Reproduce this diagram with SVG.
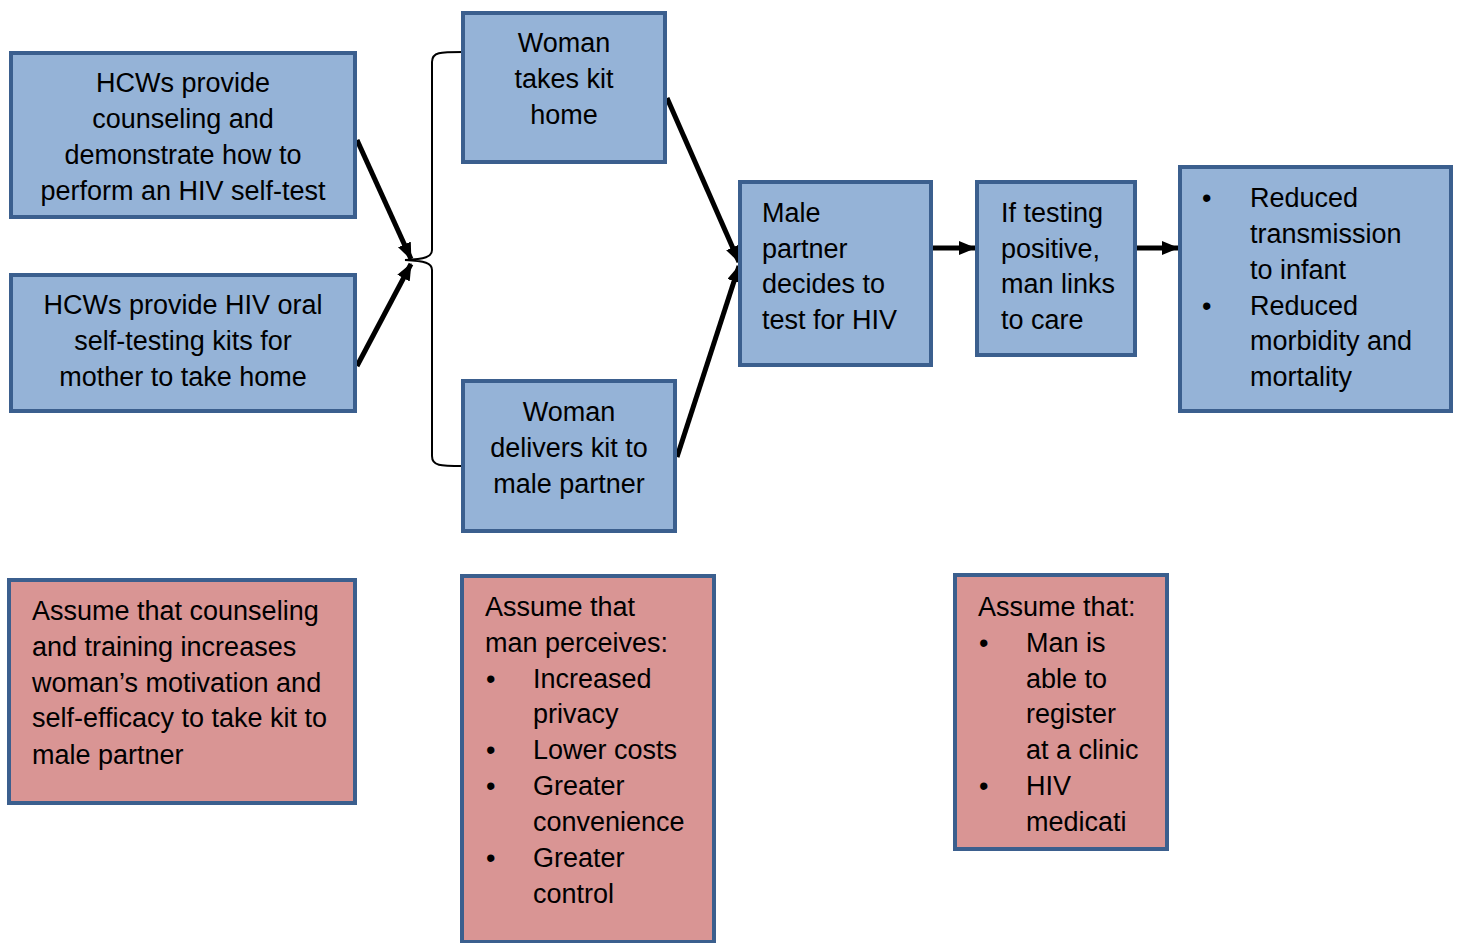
<svg xmlns="http://www.w3.org/2000/svg" width="1460" height="943" viewBox="0 0 1460 943">
<style>
.b{fill:#95b3d7;stroke:#3b5f8e;stroke-width:4}
.p{fill:#d99594;stroke:#3b5f8e;stroke-width:4}
text{font-family:"Liberation Sans",Arial,sans-serif;font-size:27px;fill:#000}
.c{text-anchor:middle}
.a{stroke:#000;stroke-width:5;fill:none}
</style>
<defs>
<marker id="ah" markerUnits="userSpaceOnUse" markerWidth="20" markerHeight="16" refX="16" refY="7" orient="auto">
<path d="M0,0 L17,7 L0,14 Z" fill="#000"/>
</marker>
</defs>
<rect width="1460" height="943" fill="#fff"/>
<g id="connectors">
<path d="M463,52 C440,52 432,52 432,62 L432,250 C432,257 425,259 405,260 C425,261 432,263 432,270 L432,456 C432,466 440,466 463,466" fill="none" stroke="#000" stroke-width="2"/>
<line class="a" x1="357" y1="140" x2="411" y2="259" marker-end="url(#ah)"/>
<line class="a" x1="357" y1="366" x2="411" y2="264" marker-end="url(#ah)"/>
<line class="a" x1="667" y1="98" x2="739" y2="262" marker-end="url(#ah)"/>
<line class="a" x1="677" y1="457" x2="739" y2="266" marker-end="url(#ah)"/>
<line class="a" x1="933" y1="248" x2="975" y2="248" marker-end="url(#ah)"/>
<line class="a" x1="1137" y1="248" x2="1178" y2="248" marker-end="url(#ah)"/>
</g>
<g id="hcw-counsel">
<rect class="b" x="11" y="53" width="344" height="164"/>
<text class="c" x="183" y="92">HCWs provide</text>
<text class="c" x="183" y="128">counseling and</text>
<text class="c" x="183" y="164">demonstrate how to</text>
<text class="c" x="183" y="200">perform an HIV self-test</text>
</g>
<g id="hcw-kits">
<rect class="b" x="11" y="275" width="344" height="136"/>
<text class="c" x="183" y="314">HCWs provide HIV oral</text>
<text class="c" x="183" y="350">self-testing kits for</text>
<text class="c" x="183" y="386">mother to take home</text>
</g>
<g id="woman-home">
<rect class="b" x="463" y="13" width="202" height="149"/>
<text class="c" x="564" y="52">Woman</text>
<text class="c" x="564" y="88">takes kit</text>
<text class="c" x="564" y="124">home</text>
</g>
<g id="woman-delivers">
<rect class="b" x="463" y="381" width="212" height="150"/>
<text class="c" x="569" y="421">Woman</text>
<text class="c" x="569" y="457">delivers kit to</text>
<text class="c" x="569" y="493">male partner</text>
</g>
<g id="male-decides">
<rect class="b" x="740" y="182" width="191" height="183"/>
<text x="762" y="222">Male</text>
<text x="762" y="258">partner</text>
<text x="762" y="293">decides to</text>
<text x="762" y="329">test for HIV</text>
</g>
<g id="links-care">
<rect class="b" x="977" y="182" width="158" height="173"/>
<text x="1001" y="222">If testing</text>
<text x="1001" y="258">positive,</text>
<text x="1001" y="293">man links</text>
<text x="1001" y="329">to care</text>
</g>
<g id="outcomes">
<rect class="b" x="1180" y="167" width="271" height="244"/>
<text x="1202" y="207">•</text>
<text x="1250" y="207">Reduced</text>
<text x="1250" y="243">transmission</text>
<text x="1250" y="279">to infant</text>
<text x="1202" y="315">•</text>
<text x="1250" y="315">Reduced</text>
<text x="1250" y="350">morbidity and</text>
<text x="1250" y="386">mortality</text>
</g>
<g id="assume-woman">
<rect class="p" x="9" y="580" width="346" height="223"/>
<text x="32" y="620">Assume that counseling</text>
<text x="32" y="656">and training increases</text>
<text x="32" y="692">woman’s motivation and</text>
<text x="32" y="727">self-efficacy to take kit to</text>
<text x="32" y="764">male partner</text>
</g>
<g id="assume-man">
<rect class="p" x="462" y="576" width="252" height="366"/>
<text x="485" y="616">Assume that</text>
<text x="485" y="652">man perceives:</text>
<text x="486" y="688">•</text>
<text x="533" y="688">Increased</text>
<text x="533" y="723">privacy</text>
<text x="486" y="759">•</text>
<text x="533" y="759">Lower costs</text>
<text x="486" y="795">•</text>
<text x="533" y="795">Greater</text>
<text x="533" y="831">convenience</text>
<text x="486" y="867">•</text>
<text x="533" y="867">Greater</text>
<text x="533" y="903">control</text>
</g>
<g id="assume-clinic">
<rect class="p" x="955" y="575" width="212" height="274"/>
<text x="978" y="616">Assume that:</text>
<text x="979" y="652">•</text>
<text x="1026" y="652">Man is</text>
<text x="1026" y="688">able to</text>
<text x="1026" y="723">register</text>
<text x="1026" y="759">at a clinic</text>
<text x="979" y="795">•</text>
<text x="1026" y="795">HIV</text>
<text x="1026" y="831">medicati</text>
</g>
</svg>
